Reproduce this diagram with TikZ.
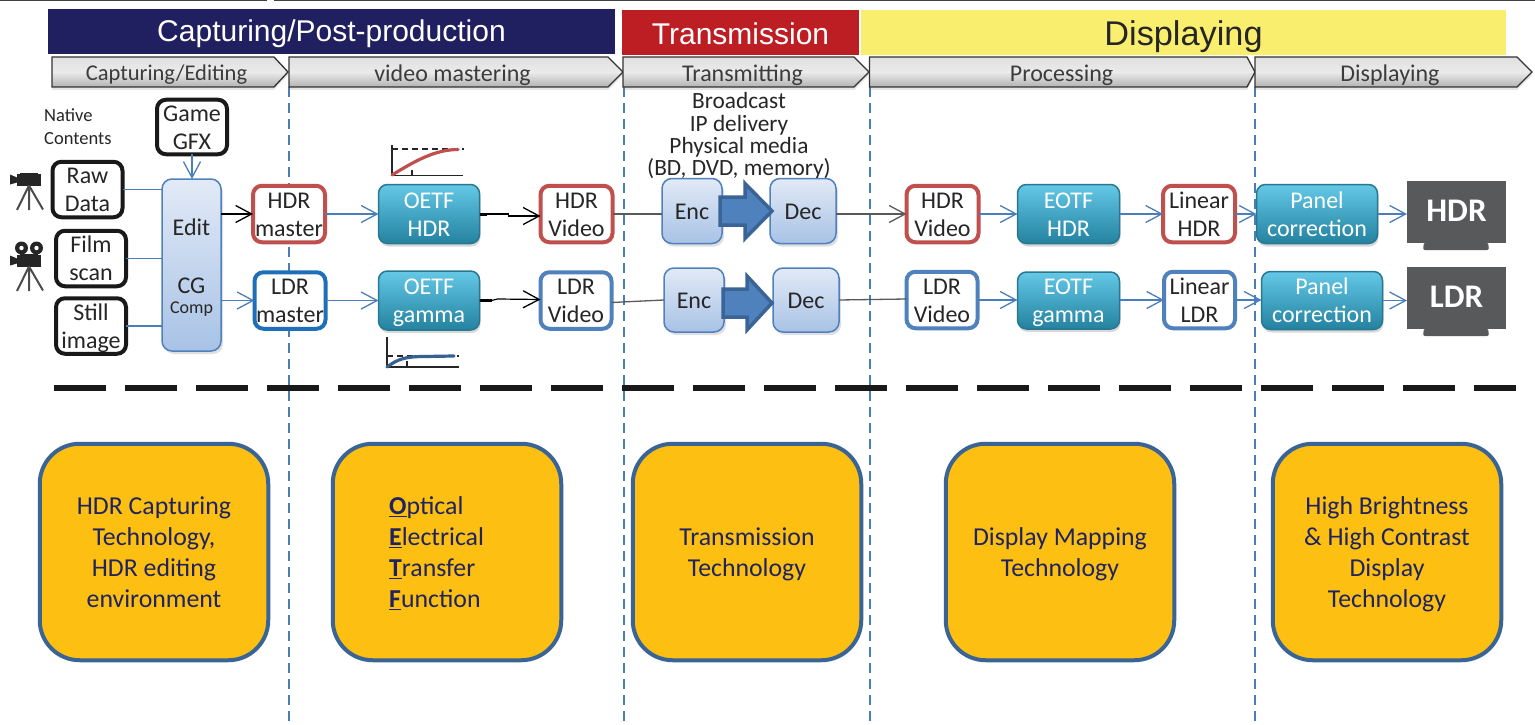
\documentclass[tikz,border=0pt]{standalone}
\usepackage{fontspec}
\setmainfont{Carlito}
\newfontfamily\headfont{Liberation Sans}
\usetikzlibrary{arrows.meta,shadows,calc}
\definecolor{navyh}{HTML}{201F5F}
\definecolor{redh}{HTML}{BD1E24}
\definecolor{yellowh}{HTML}{FAEE6E}
\definecolor{txt}{HTML}{262626}
\definecolor{blueline}{HTML}{4A7EBB}
\definecolor{redbox}{HTML}{C0504D}
\definecolor{bluebox}{HTML}{4F81BD}
\definecolor{blueboxb}{HTML}{1F6FB8}
\definecolor{graph}{HTML}{35608F}
\definecolor{orangeb}{HTML}{FDBF12}
\definecolor{orangeline}{HTML}{3B6496}
\definecolor{navytxt}{HTML}{1F2360}
\definecolor{monitor}{HTML}{58595B}
\definecolor{grayline}{HTML}{595959}
\definecolor{arrowf}{HTML}{4F81BD}
\definecolor{arrowl}{HTML}{3A6496}
\tikzset{
 texth/.style={text height=#1,text depth=0pt},
 basebox/.style={rectangle,inner sep=0pt,outer sep=0pt,align=center,font=\fontsize{24}{28}\selectfont,text=txt,texth=44.8pt},
 blackbox/.style={basebox,draw=black!90,fill=white,line width=4pt,rounded corners=9pt},
 hdrbox/.style={basebox,draw=redbox,fill=white,line width=4pt,rounded corners=9pt,minimum width=72pt,minimum height=56.5pt},
 ldrbox/.style={basebox,draw=bluebox,fill=white,line width=4pt,rounded corners=9pt,minimum width=71pt,minimum height=56.5pt},
 softbox/.style={basebox,draw=bluebox,line width=1.5pt,rounded corners=10pt,
   top color={rgb,255:red,226;green,234;blue,246},bottom color={rgb,255:red,168;green,194;blue,230},
   drop shadow={shadow xshift=2pt,shadow yshift=-3pt,opacity=.25}},
 cyanbox/.style={basebox,draw={rgb,255:red,40;green,120;blue,145},line width=1.5pt,rounded corners=9pt,text=white,
   top color={rgb,255:red,100;green,200;blue,230},middle color={rgb,255:red,60;green,185;blue,225},bottom color={rgb,255:red,35;green,130;blue,160},
   drop shadow={shadow xshift=1pt,shadow yshift=-3pt,opacity=.3}},
 orangebox/.style={basebox,draw=orangeline,fill=orangeb,line width=4pt,rounded corners=40pt,minimum width=228.5pt,minimum height=216.5pt,text=navytxt,font=\fontsize{25.8}{31}\selectfont,texth=110.8pt},
 headbar/.style={rectangle,inner sep=0pt,outer sep=0pt,font=\headfont},
 chevron/.style={draw=black!80,line width=1.3pt,top color=black!12,bottom color=black!30,middle color=black!8,drop shadow={shadow xshift=0pt,shadow yshift=-3pt,opacity=.2}},
 chevlabel/.style={inner sep=0pt,font=\fontsize{24}{26}\selectfont,text=txt!90},
 sep/.style={blueline,line width=1.4pt,dash pattern=on 10pt off 6pt},
 conn/.style={blueline,line width=1.4pt},
 connb/.style={black,line width=1.2pt},
 conng/.style={grayline,line width=1.3pt},
 arr/.style={-{Straight Barb[length=16pt,width=17pt,line width=1.3pt]}},
 bigarrow/.style={draw=arrowl,fill=arrowf,line width=3.5pt,line join=miter},
 axisl/.style={black!85,line width=1.2pt},
 tv/.style={fill=monitor},
 tvtxt/.style={inner sep=0pt,text=white,font=\fontsize{33}{36}\selectfont\bfseries},
}
\newcommand{\movie}[1]{%
\begin{scope}[shift={#1}]
 \fill[black!85] (7,0) rectangle (31,12.5);
 \fill[black!85] (10,-1) rectangle (28,1);
 \fill[black!85] (0,1) -- (7,4) -- (7,9) -- (0,11) -- cycle;
 \draw[black!70,line width=2pt] (19,12) -- (7,36.5) (19,12) -- (19,36.5) (19,12) -- (33,36);
\end{scope}}
\begin{document}
\begin{tikzpicture}[x=1pt,y=-1pt]
\useasboundingbox (0,0) rectangle (1535,725);
\fill[white] (0,0) rectangle (1535,725);
% top edge
\draw[black!75,line width=1pt] (0,0.5) -- (267,0.5) (274,0.5) -- (1535,0.5);
% headers
\node[headbar,fill=navyh,minimum width=567pt,minimum height=45pt] (h1) at (331.5,31.5) {};
\node[headbar,text=white,font=\fontsize{30}{34}\headfont\selectfont] (h1t) at (331.5,34) {Capturing/Post-production};
\node[headbar,fill=redh,minimum width=237pt,minimum height=45pt] (h2) at (740.5,32.5) {};
\node[headbar,text=white,font=\fontsize{30}{34}\headfont\selectfont] (h2t) at (740.5,34) {Transmission};
\node[headbar,fill=yellowh,minimum width=645pt,minimum height=45pt] (h3) at (1183.5,32.5) {};
\node[headbar,text=black!85,font=\fontsize{34.3}{36}\headfont\selectfont] (h3t) at (1183.5,37) {Displaying};
% thick divider
\coordinate (d1) at (54,388); \coordinate (d2) at (1516,388);
\draw[black!90,line width=6pt,dash pattern=on 52pt off 19pt] (d1) -- (d2);
% separators
\coordinate (s1t) at (289,87); \coordinate (s1b) at (289,722);
\coordinate (s2t) at (624,87); \coordinate (s2b) at (624,725);
\coordinate (s3t) at (870,87); \coordinate (s3b) at (870,725);
\coordinate (s4t) at (1255,87); \coordinate (s4b) at (1255,725);
\draw[sep] (s1t) -- (s1b);
\draw[sep] (s2t) -- (s2b);
\draw[sep] (s3t) -- (s3b);
\draw[sep] (s4t) -- (s4b);
% chevrons
\draw[chevron] (52,57) -- (274,57) -- (288,72) -- (274,87) -- (52,87) -- cycle;
\draw[chevron] (289,57) -- (608,57) -- (623,72) -- (608,87) -- (289,87) -- cycle;
\draw[chevron] (623,57) -- (854,57) -- (869,72) -- (854,87) -- (623,87) -- cycle;
\draw[chevron] (869.5,57) -- (1247,57) -- (1255,72) -- (1247,87) -- (869.5,87) -- cycle;
\draw[chevron] (1255,57) -- (1517,57) -- (1532,72) -- (1517,87) -- (1255,87) -- cycle;
\node[chevlabel,font=\fontsize{22.5}{26}\selectfont] (c1) at (166.5,75) {Capturing/Editing};
\node[chevlabel] (c2) at (452.5,75) {video mastering};
\node[chevlabel] (c3) at (742.5,75) {Transmitting};
\node[chevlabel] (c4) at (1061.5,75) {Processing};
\node[chevlabel] (c5) at (1390,75) {Displaying};
% side labels
\node[inner sep=0pt,align=left,anchor=west,font=\fontsize{18.5}{23}\selectfont,text=txt] (native) at (44,126.5) {Native\\Contents};
\node[inner sep=0pt,align=center,font=\fontsize{23.3}{22.4}\selectfont,text=txt] (media) at (739,136) {Broadcast\\IP delivery\\Physical media\\(BD, DVD, memory)};
% cameras
\movie{(10,173.5)}
\fill[black!85] (21.5,248) circle (6.5) (36.5,248) circle (6.5);
\fill[white] (21.5,248) circle (2.2) (36.5,248) circle (2.2);
\movie{(10,254.5)}
% black boxes
\node[blackbox,minimum width=70pt,minimum height=54.5pt] (game) at (192,127) {Game\\GFX};
\node[blackbox,minimum width=70pt,minimum height=55.5pt] (raw) at (87.5,189.5) {Raw\\Data};
\node[blackbox,minimum width=70pt,minimum height=55.5pt] (film) at (91,258.5) {Film\\scan};
\node[blackbox,minimum width=70pt,minimum height=55.5pt] (still) at (91,326) {Still\\image};
% edit
\node[softbox,texth=96pt,minimum width=59pt,minimum height=172pt] (edit) at (191.5,265) {Edit\\[30pt]CG\\[-8pt]{\fontsize{18}{20}\selectfont Comp}};
% masters
\node[hdrbox] (hm) at (289,214) {HDR\\master};
\node[ldrbox,draw=blueboxb] (lm) at (290,300.5) {LDR\\master};
% oetf
\node[cyanbox,minimum width=101pt,minimum height=59pt] (oh) at (429,214) {OETF\\HDR};
\node[cyanbox,minimum width=101pt,minimum height=59pt] (og) at (429,300.5) {OETF\\gamma};
% videos
\node[hdrbox] (hv) at (576.5,214) {HDR\\Video};
\node[ldrbox] (lv) at (576,300.5) {LDR\\Video};
% enc dec
\node[softbox,texth=16.8pt,minimum width=60pt,minimum height=65pt] (enc1) at (692,211) {Enc};
\node[softbox,texth=16.8pt,minimum width=66pt,minimum height=65pt] (dec1) at (803,211) {Dec};
\node[softbox,texth=16.8pt,minimum width=60pt,minimum height=64pt] (enc2) at (694,300) {Enc};
\node[softbox,texth=16.8pt,minimum width=66pt,minimum height=64pt] (dec2) at (806,300) {Dec};
% output side
\node[hdrbox] (hv2) at (942.5,214) {HDR\\Video};
\node[ldrbox] (lv2) at (942,300) {LDR\\Video};
\node[cyanbox,minimum width=102pt,minimum height=59pt] (eh) at (1068.5,214) {EOTF\\HDR};
\node[cyanbox,minimum width=102pt,minimum height=57pt] (eg) at (1068.5,300.5) {EOTF\\gamma};
\node[hdrbox] (lh) at (1199,214) {Linear\\HDR};
\node[ldrbox] (ll) at (1199.5,300) {Linear\\LDR};
\node[cyanbox,minimum width=121pt,minimum height=59pt] (p1) at (1317,214) {Panel\\correction};
\node[cyanbox,minimum width=121pt,minimum height=58pt] (p2) at (1322,300.5) {Panel\\correction};
% monitors
\fill[tv,rounded corners=2pt] (1424,242) -- (1488,242) -- (1489,250) -- (1423,250) -- cycle;
\fill[tv,rounded corners=2pt] (1424,328) -- (1488,328) -- (1489,336) -- (1423,336) -- cycle;
\node[rectangle,tv,inner sep=0pt,outer sep=0pt,minimum width=99pt,minimum height=62pt] (m1) at (1456.5,212) {};
\node[rectangle,tv,inner sep=0pt,outer sep=0pt,minimum width=99pt,minimum height=62pt] (m2) at (1456.5,298) {};
\node[tvtxt] (m1t) at (1456.5,210.5) {HDR};
\node[tvtxt] (m2t) at (1456.5,296.5) {LDR};
% connectors left
\draw[conn] (raw.east) -- (raw.east -| edit.west);
\draw[conn] (film.east) -- (film.east -| edit.west);
\draw[conn,line width=1.8pt] (still.east) -- (still.east -| edit.west);
\draw[conn,arr] (game.south) -- (game.south |- edit.north);
\draw[connb,arr] (hm.west -| edit.east) -- (hm.west);
\draw[conn,arr,line width=1.8pt] (lm.west -| edit.east) -- (lm.west);
\draw[conn,arr] (hm.east) -- (oh.west);
\draw[conn,arr] (lm.east) -- (og.west);
% oetf to video
\draw[connb,arr] (oh.east) -- ++(29,0) -- ++(0,2) -- ([yshift=-2pt]hv.west);
\draw[connb,line width=3pt] (oh.east) -- ++(7,0);
\draw[connb,arr] (og.east) -- ++(12,0) -- ++(6,-1.5) -- ([yshift=1pt]lv.west);
\draw[connb,line width=2.4pt] (og.east) -- ++(12,0);
% transmission
\draw[conng] (hv.east) -- (enc1.west |- hv.east);
\draw[conng,line width=2.4pt] ([xshift=-9pt]enc1.west |- hv.east) -- (enc1.west |- hv.east);
\draw[conng] ([yshift=-2pt]lv.east) -- (enc2.west);
\draw[conng,arr] (dec1.east |- hv2.west) -- (hv2.west);
\draw[conng,line width=2.4pt] (dec1.east |- hv2.west) -- ++(12,0);
\draw[conng] (dec2.east) -- ([yshift=1pt]lv2.west);
% big arrows
\draw[bigarrow] ([xshift=-2pt,yshift=14pt]enc1.east) -- (745,197) -- (745,183.5) -- ([xshift=2pt]dec1.west) -- (745,238.5) -- (745,225) -- ([xshift=-2pt,yshift=-14pt]enc1.east) -- cycle;
\draw[bigarrow] ([xshift=-1pt,yshift=11pt]enc2.east) -- (747,289) -- (747,276) -- ([xshift=-1pt,yshift=-3pt]dec2.west) -- (747,330) -- (747,317) -- ([xshift=-1pt,yshift=-17pt]enc2.east) -- cycle;
% display side
\draw[conn,arr] (hv2.east) -- (eh.west);
\draw[conn,arr] (lv2.east) -- (eg.west |- lv2.east);
\draw[conn,arr] (eh.east) -- (lh.west);
\draw[conn,arr] (eg.east |- ll.west) -- (ll.west);
\draw[conn,arr] (lh.east) -- (p1.west);
\draw[conn,arr] (ll.east) -- (p2.west |- ll.east);
\draw[conn,arr] (p1.east) -- (m1.west |- p1.east);
\draw[conn,arr] (p2.east) -- (m2.west |- p2.east);
% graphs
\draw[axisl] (392,145) -- (392,175.5) -- (463,175.5);
\draw[axisl] (412,170) -- (412,175.5);
\draw[axisl,dashed,dash pattern=on 6pt off 4pt] (392,149) -- (464,149);
\draw[redbox,line width=3.2pt,line cap=round] (392,175) .. controls (415,161) and (435,149.5) .. (458,149.5);
\draw[axisl] (387,337) -- (387,367) -- (459,367);
\draw[axisl] (407,361) -- (407,367);
\draw[axisl,dashed,dash pattern=on 6pt off 4pt] (387,356) -- (459,356);
\draw[graph,line width=3.2pt,line cap=round] (387,367) .. controls (398,359) and (405,356.5) .. (425,356.5) -- (454,356);
% bottom boxes
\node[orangebox] (b1) at (154,552) {HDR Capturing\\Technology,\\HDR editing\\environment};
\node[orangebox] (b2) at (447,552) {};
\node[texth=110.8pt,inner sep=0pt,anchor=west,align=left,text=navytxt,font=\fontsize{25.8}{31}\selectfont] (b2t) at (389,552) {\underline{\textbf{O}}ptical\\\underline{\textbf{E}}lectrical\\\underline{\textbf{T}}ransfer\\\underline{\textbf{F}}unction};
\node[orangebox,texth=48.8pt] (b3) at (747,552) {Transmission\\Technology};
\node[orangebox,texth=48.8pt] (b4) at (1060,552) {Display Mapping\\Technology};
\node[orangebox] (b5) at (1387,552) {High Brightness\\\& High Contrast\\Display\\Technology};
\end{tikzpicture}
\end{document}
